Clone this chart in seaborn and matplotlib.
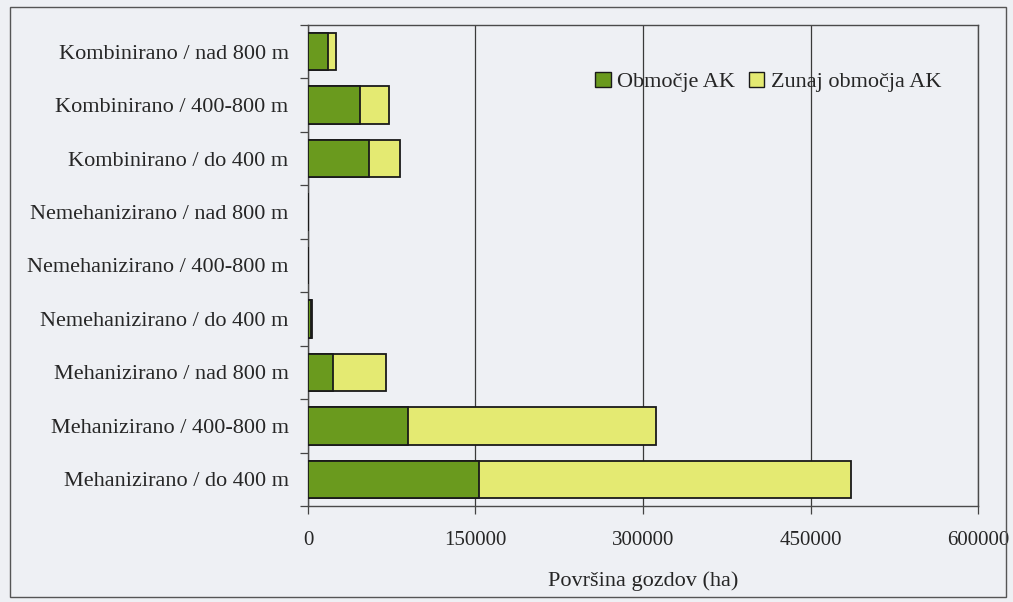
import matplotlib
matplotlib.use("Agg")
import matplotlib.pyplot as plt
import seaborn as sns
import pandas as pd
from matplotlib.patches import Patch, Rectangle

categories = ['Kombinirano / nad 800 m', 'Kombinirano / 400-800 m', 'Kombinirano / do 400 m',
              'Nemehanizirano / nad 800 m', 'Nemehanizirano / 400-800 m', 'Nemehanizirano / do 400 m',
              'Mehanizirano / nad 800 m', 'Mehanizirano / 400-800 m', 'Mehanizirano / do 400 m']
obmocje_ak = [17900, 47000, 54600, 0, 0, 2500, 22400, 89200, 153200]
zunaj_ak = [7100, 25500, 27800, 0, 0, 1000, 47400, 222800, 333200]
x_ticks = [0, 150000, 300000, 450000, 600000]

green = '#6a9a1e'
yellow = '#e4ea72'
bg = '#eef0f4'

df = pd.DataFrame({'kat': categories, 'ak': obmocje_ak, 'zunaj': zunaj_ak})
df['skupaj'] = df['ak'] + df['zunaj']

sns.set_style('white')
plt.rcParams['font.family'] = ['Liberation Serif', 'DejaVu Serif']

fig = plt.figure(figsize=(10.13, 6.02), dpi=100, facecolor=bg)
ax = fig.add_axes([0.304, 0.1595, 0.6615, 0.799])
ax.set_facecolor(bg)

# stacked bars: total in yellow, green part drawn over it
sns.barplot(data=df, x='skupaj', y='kat', order=categories, color=yellow, orient='h',
            width=0.7, edgecolor='#1a1a1a', linewidth=1.3, ax=ax, saturation=1, zorder=3)
sns.barplot(data=df, x='ak', y='kat', order=categories, color=green, orient='h',
            width=0.7, edgecolor='#1a1a1a', linewidth=1.3, ax=ax, saturation=1, zorder=4)

ax.set_xlim(0, 600000)
ax.set_ylim(8.5, -0.5)
ax.set_xticks(x_ticks)
ax.set_xticklabels([str(t) for t in x_ticks], fontsize=15)
ax.xaxis.grid(True, color='#3a3a3a', linewidth=0.9)
ax.set_axisbelow(True)
ax.tick_params(axis='x', bottom=True, direction='out', length=6, width=0.9, color='#444', pad=12)
ax.tick_params(axis='y', which='major', left=False, length=0, labelsize=16, pad=14)
ax.set_yticks([i + 0.5 for i in range(-1, 9)], minor=True)
ax.tick_params(axis='y', which='minor', left=True, direction='out', length=6, width=0.9, color='#444')
ax.set_xlabel('Površina gozdov (ha)', fontsize=16, labelpad=15)
ax.set_ylabel('')
for s in ax.spines.values():
    s.set_color('#4a4a4a')
    s.set_linewidth(1.0)
    s.set_visible(True)

handles = [Patch(facecolor=green, edgecolor='#1a1a1a', label='Območje AK'),
           Patch(facecolor=yellow, edgecolor='#1a1a1a', label='Zunaj območja AK')]
ax.legend(handles=handles, loc='center left', bbox_to_anchor=(0.412, 0.881), ncol=2,
          frameon=False, fontsize=16, borderpad=0, handlelength=0.7, handleheight=0.7,
          handletextpad=0.3, columnspacing=0.6)

fig.patches.append(Rectangle((10 / 1013, 5 / 602), 996 / 1013, 590 / 602, transform=fig.transFigure,
                             fill=False, edgecolor='#555', linewidth=1.0))

fig.savefig('out.png', dpi=100, facecolor=bg)
